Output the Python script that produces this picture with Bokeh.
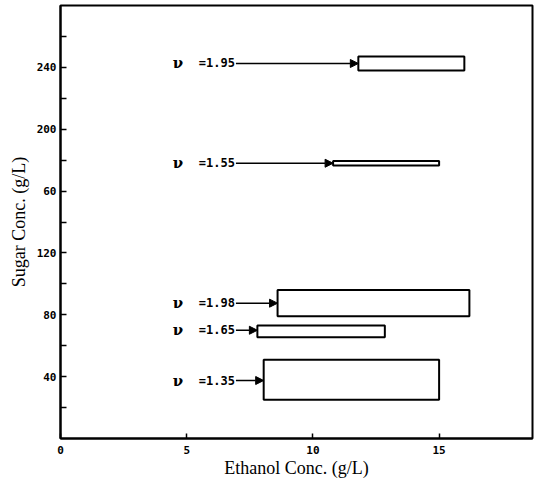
from bokeh.plotting import figure
from bokeh.models import ColumnDataSource, Arrow, NormalHead, FixedTicker, Range1d
from bokeh.core.properties import value
from bokeh.embed import file_html
from bokeh.resources import INLINE

# data
nu_labels = ["=1.95", "=1.55", "=1.98", "=1.65", "=1.35"]
x_left = [11.8, 10.8, 8.6, 7.8, 8.05]
x_right = [16.0, 15.0, 16.2, 12.85, 15.0]
y_bottom = [238.0, 176.5, 79.0, 65.5, 25.0]
y_top = [247.0, 179.5, 96.0, 73.0, 51.0]
arrow_y = [242.5, 178.0, 87.5, 70.0, 37.5]

x_ticks = [0, 5, 10, 15]
y_ticks = [40, 80, 120, 160, 200, 240]
y_tick_labels = ["40", "80", "120", "60", "200", "240"]
y_minor = [20, 60, 100, 140, 180, 220, 260]

label_end = 6.95
arrow_start = [label_end] * len(nu_labels)
nu_x = [4.45] * len(nu_labels)
label_x = [label_end] * len(nu_labels)

p = figure(width=534, height=482, output_backend="svg", toolbar_location=None,
           x_range=Range1d(0, 18.7), y_range=Range1d(0, 280),
           min_border_left=60, min_border_right=2, min_border_top=5, min_border_bottom=44)
p.grid.visible = False
p.outline_line_color = "black"
p.outline_line_width = 2
p.background_fill_color = "white"
p.border_fill_color = "white"

src = ColumnDataSource(dict(left=x_left, right=x_right, bottom=y_bottom, top=y_top,
                            ay=arrow_y, ax0=arrow_start, ax1=x_left,
                            lab=nu_labels, lx=label_x, nx=nu_x))

p.quad(left="left", right="right", bottom="bottom", top="top", source=src,
       fill_color="white", line_color="black", line_width=2)

p.add_layout(Arrow(end=NormalHead(size=8, fill_color="black", line_color="black"),
                   x_start="ax0", y_start="ay", x_end="ax1", y_end="ay",
                   source=src, line_width=1.5, line_color="black"))

p.text(x="lx", y="ay", text="lab", source=src, text_align="right", text_baseline="middle",
       text_font=value("DejaVu Sans Mono"), text_font_style="bold", text_font_size="12px",
       text_color="black", x_offset=-1)
p.text(x="nx", y="ay", text=value("ν"), source=src, text_align="left", text_baseline="middle",
       text_font=value("DejaVu Serif"), text_font_style="bold", text_font_size="15px",
       text_color="black")

# x axis
xa = p.xaxis[0]
xa.ticker = FixedTicker(ticks=x_ticks, minor_ticks=[])
xa.axis_label = "Ethanol Conc. (g/L)"
xa.axis_label_text_font = "Liberation Serif"
xa.axis_label_text_font_style = "normal"
xa.axis_label_text_font_size = "18px"
xa.axis_label_text_color = "black"
xa.axis_label_standoff = 1
xa.major_label_text_font = "DejaVu Sans Mono"
xa.major_label_text_font_style = "bold"
xa.major_label_text_font_size = "11px"
xa.major_label_text_color = "black"
xa.major_label_standoff = 7
xa.major_tick_in = 5
xa.major_tick_out = 0
xa.major_tick_line_width = 1.5
xa.axis_line_width = 2
xa.axis_line_color = "black"

# y axis
ya = p.yaxis[0]
ya.ticker = FixedTicker(ticks=y_ticks, minor_ticks=y_minor)
ya.major_label_overrides = {t: l for t, l in zip(y_ticks, y_tick_labels)}
ya.axis_label = "Sugar Conc. (g/L)"
ya.axis_label_text_font = "Liberation Serif"
ya.axis_label_text_font_style = "normal"
ya.axis_label_text_font_size = "18px"
ya.axis_label_text_color = "black"
ya.axis_label_standoff = 5
ya.major_label_text_font = "DejaVu Sans Mono"
ya.major_label_text_font_style = "bold"
ya.major_label_text_font_size = "11px"
ya.major_label_text_color = "black"
ya.major_label_standoff = 4
ya.major_tick_in = 6
ya.major_tick_out = 0
ya.minor_tick_in = 6
ya.minor_tick_out = 0
ya.major_tick_line_width = 1.5
ya.minor_tick_line_width = 1.5
ya.axis_line_width = 2
ya.axis_line_color = "black"

open("out.html", "w").write(file_html(p, INLINE))
